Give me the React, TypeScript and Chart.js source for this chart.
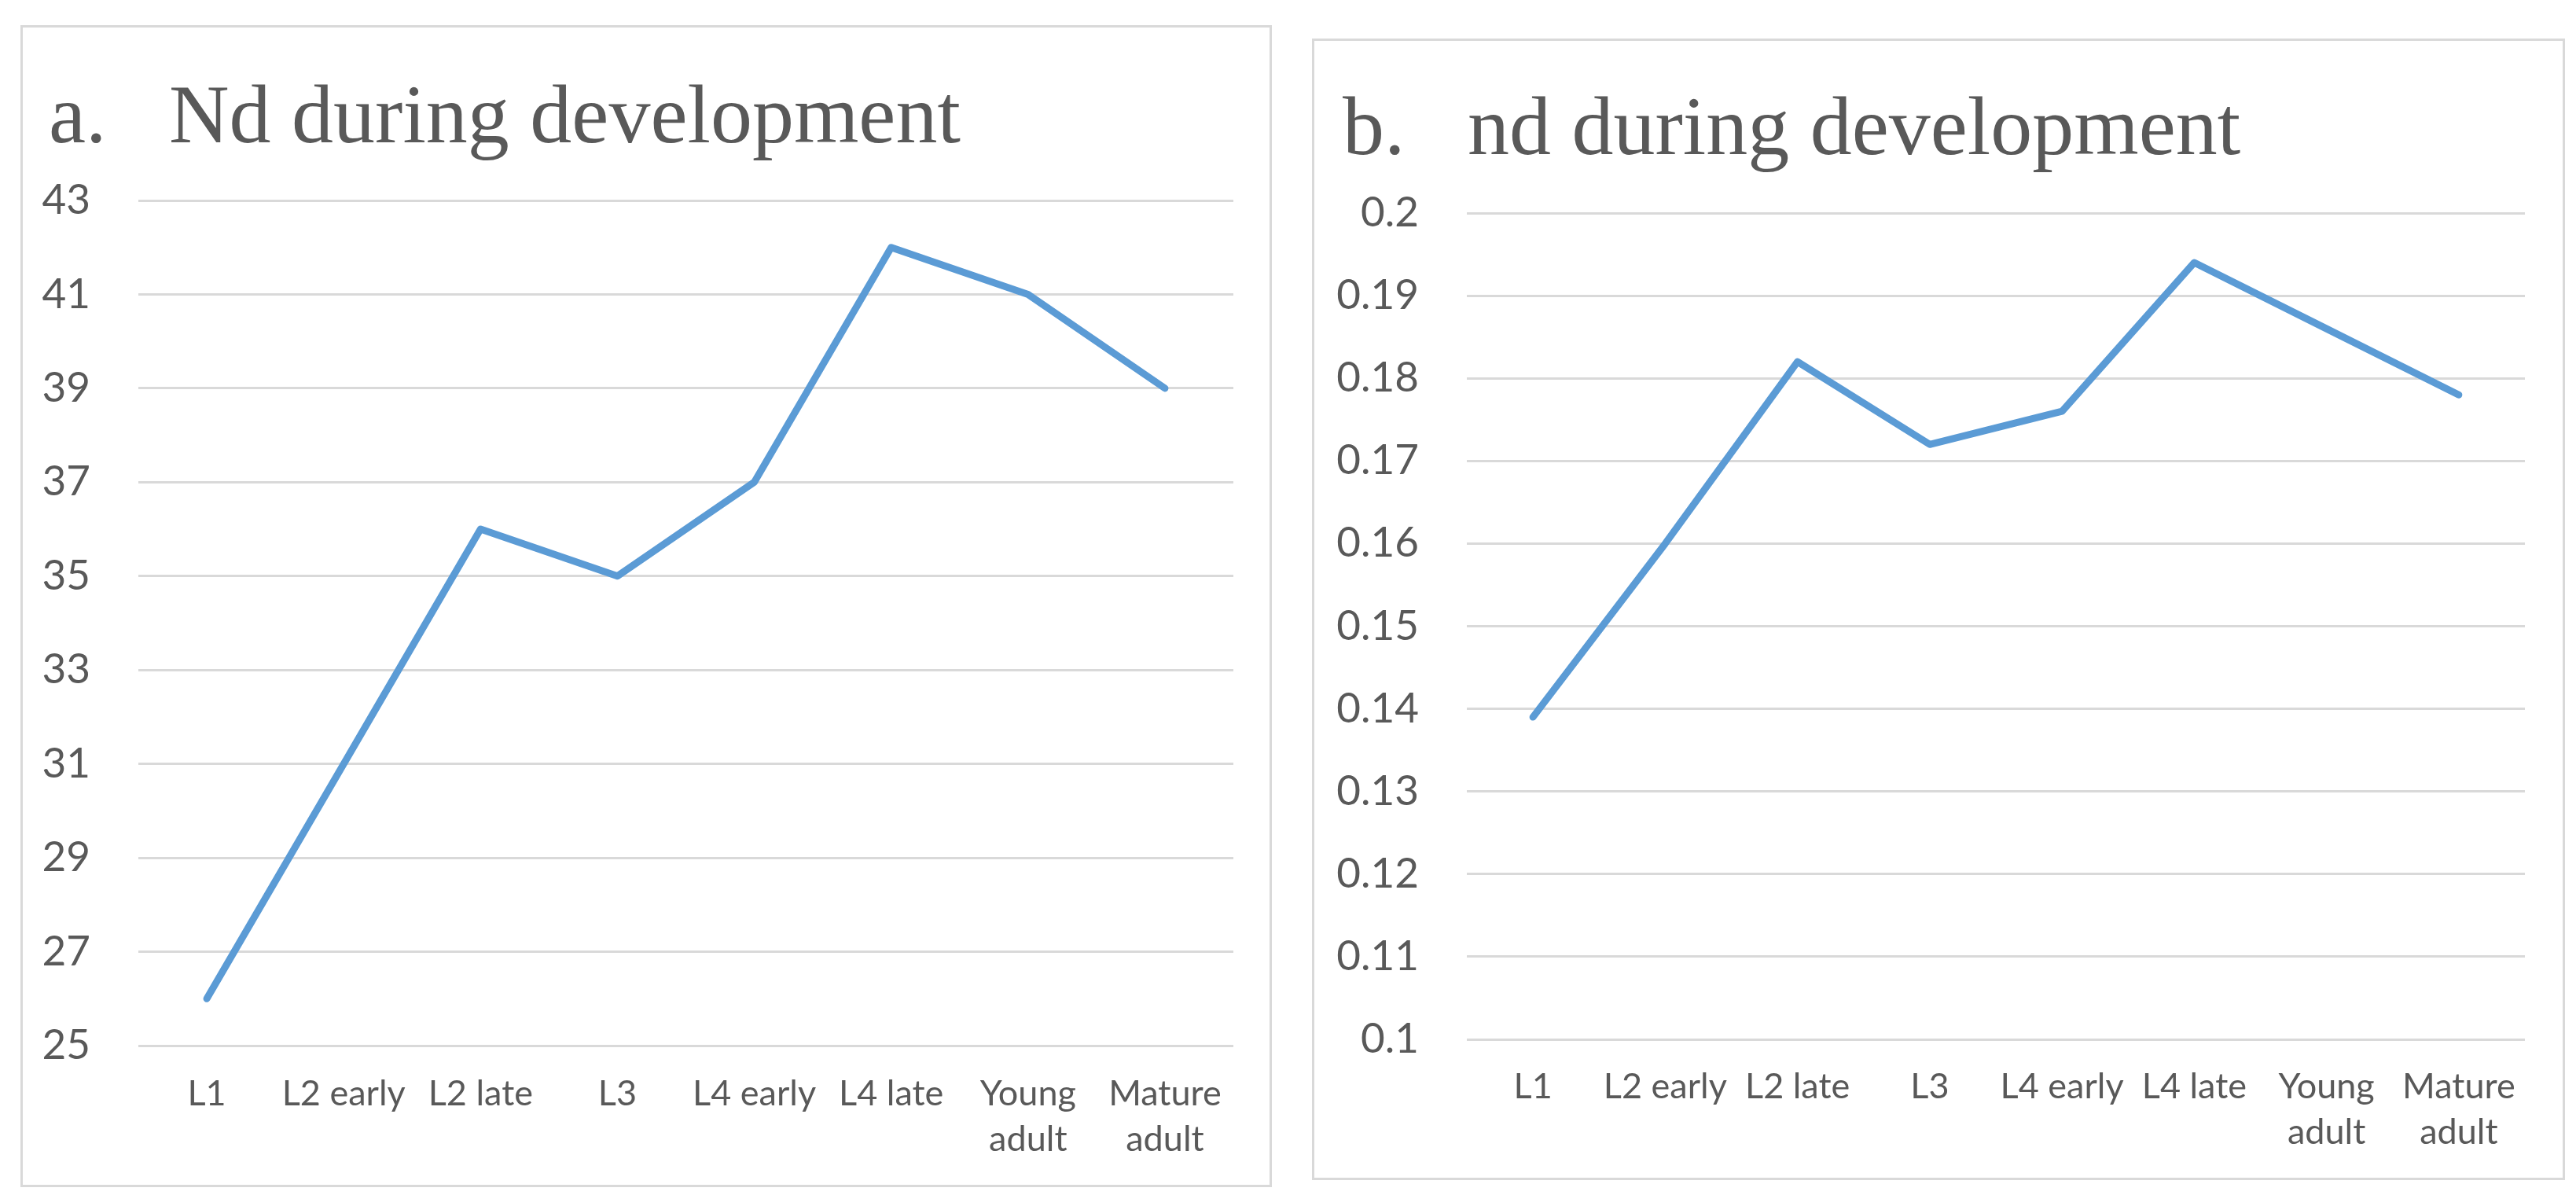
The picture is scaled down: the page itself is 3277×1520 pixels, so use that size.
import React, { useEffect, useRef } from "react";
import { Chart, registerables } from "chart.js";

Chart.register(...registerables);

// ---- Data ----
const categories: (string | string[])[] = [
  "L1",
  "L2 early",
  "L2 late",
  "L3",
  "L4 early",
  "L4 late",
  ["Young", "adult"],
  ["Mature", "adult"],
];
const bigNdValues = [26, 31, 36, 35, 37, 42, 41, 39];
const smallNdValues = [0.139, 0.16, 0.182, 0.172, 0.176, 0.194, 0.186, 0.178];
const titleA = "a.   Nd during development";
const titleB = "b.   nd during development";
const yRangeA = [25, 43, 2];
const yRangeB = [0.1, 0.2, 0.01];

const LINE_COLOR = "#5B9BD5";
const GRID_COLOR = "#D9D9D9";
const TEXT_COLOR = "#595959";

const panelTitlePlugin = {
  id: "panelTitle",
  afterDraw(chart: any, _args: any, opts: any) {
    if (!opts || !opts.text) return;
    const ctx = chart.ctx;
    ctx.save();
    ctx.font = "normal 106px 'Liberation Serif', 'Times New Roman', serif";
    ctx.fillStyle = TEXT_COLOR;
    ctx.textAlign = "left";
    ctx.textBaseline = "alphabetic";
    ctx.fillText(opts.text, opts.x, opts.y);
    ctx.restore();
  },
};

type PanelProps = {
  left: number;
  top: number;
  width: number;
  height: number;
  title: string;
  titleX: number;
  titleY: number;
  values: number[];
  yRange: number[];
  padTop: number;
  padRight: number;
  yWidth: number;
  xHeight: number;
  xTickPad: number;
};

function Panel(p: PanelProps) {
  const ref = useRef<HTMLCanvasElement | null>(null);
  const border = 3;
  const cw = p.width - 2 * border;
  const ch = p.height - 2 * border;

  useEffect(() => {
    if (!ref.current) return;
    const chart = new Chart(ref.current, {
      type: "line",
      data: {
        labels: categories,
        datasets: [
          {
            data: p.values,
            borderColor: LINE_COLOR,
            backgroundColor: LINE_COLOR,
            borderWidth: 9,
            borderCapStyle: "round",
            borderJoinStyle: "round",
            pointRadius: 0,
            tension: 0,
            fill: false,
          },
        ],
      },
      plugins: [panelTitlePlugin],
      options: {
        responsive: false,
        animation: false,
        devicePixelRatio: 1,
        layout: {
          padding: { left: 0, right: p.padRight, top: p.padTop, bottom: 0 },
        },
        plugins: {
          legend: { display: false },
          tooltip: { enabled: false },
          title: { display: false },
          panelTitle: { text: p.title, x: p.titleX, y: p.titleY },
        },
        scales: {
          x: {
            type: "category",
            offset: true,
            grid: { display: false, drawTicks: false },
            border: { display: false },
            ticks: {
              color: TEXT_COLOR,
              font: { family: "Lato", size: 45, lineHeight: "58px" },
              maxRotation: 0,
              minRotation: 0,
              autoSkip: false,
              padding: p.xTickPad,
            },
            afterFit: (scale: any) => {
              scale.height = p.xHeight;
            },
          },
          y: {
            min: p.yRange[0],
            max: p.yRange[1],
            grid: { color: GRID_COLOR, lineWidth: 3, drawTicks: false },
            border: { display: false },
            ticks: {
              stepSize: p.yRange[2],
              color: TEXT_COLOR,
              font: { family: "Lato", size: 53 },
              padding: 61,
              callback: (v: any) => String(Math.round(Number(v) * 1000) / 1000),
            },
            afterFit: (scale: any) => {
              scale.width = p.yWidth;
            },
          },
        },
      } as any,
    });
    return () => chart.destroy();
  }, []);

  return (
    <div
      style={{
        position: "absolute",
        left: p.left,
        top: p.top,
        width: p.width,
        height: p.height,
        border: `${border}px solid ${GRID_COLOR}`,
        boxSizing: "border-box",
        background: "#fff",
      }}
    >
      <canvas ref={ref} width={cw} height={ch} style={{ display: "block", width: cw, height: ch }} />
    </div>
  );
}

export default function App() {
  return (
    <div style={{ position: "relative", width: 3277, height: 1520 }}>
      <Panel
        left={18}
        top={24}
        width={1592}
        height={1478}
        title={titleA}
        titleX={33}
        titleY={146}
        values={bigNdValues}
        yRange={yRangeA}
        padTop={220}
        padRight={46}
        yWidth={147}
        xHeight={177}
        xTickPad={32}
      />
      <Panel
        left={1661}
        top={41}
        width={1594}
        height={1452}
        title={titleB}
        titleX={36}
        titleY={144}
        values={smallNdValues}
        yRange={yRangeB}
        padTop={219}
        padRight={48}
        yWidth={194}
        xHeight={176}
        xTickPad={31}
      />
    </div>
  );
}
